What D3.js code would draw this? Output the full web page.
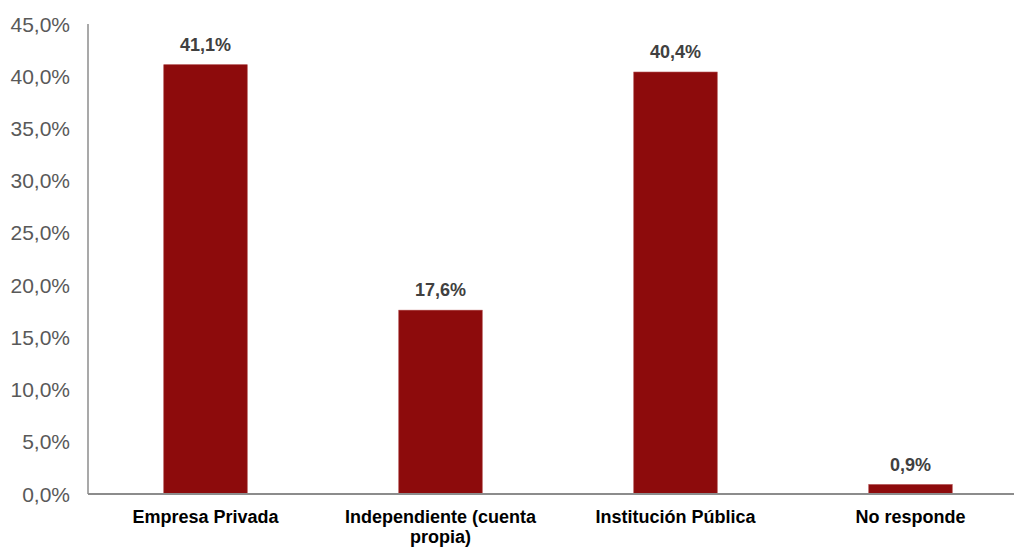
<!DOCTYPE html>
<html><head><meta charset="utf-8">
<script src="https://cdn.jsdelivr.net/npm/d3@7"></script>
<style>body{margin:0;background:#fff}svg{display:block}</style>
</head><body>
<svg id="c" width="1014" height="547"></svg>
<script>
const categories = ["Empresa Privada", "Independiente (cuenta propia)", "Institución Pública", "No responde"];
const values = [41.1, 17.6, 40.4, 0.9];
const yTicks = [0, 5, 10, 15, 20, 25, 30, 35, 40, 45];

const svg = d3.select("#c");
const fmt = v => v.toFixed(1).replace(".", ",") + "%";

const x = d3.scaleBand().domain(categories).range([88, 1028]).padding(0);
const y = d3.scaleLinear().domain([0, 45]).range([494, 24]);
const barW = x.bandwidth() * 0.355;

// y axis line
svg.append("line").attr("x1", 88).attr("x2", 88).attr("y1", y(45)).attr("y2", y(0))
  .attr("stroke", "#8c8c8c").attr("stroke-width", 1.5);

// y tick labels
svg.append("g").selectAll("text").data(yTicks).join("text")
  .attr("x", 70).attr("y", d => y(d)).attr("dy", "0.36em")
  .attr("text-anchor", "end")
  .attr("font-family", "Liberation Sans, Arial, sans-serif")
  .attr("font-size", 21).attr("fill", "#595959")
  .text(d => fmt(d));

// bars
svg.append("g").selectAll("rect").data(values).join("rect")
  .attr("x", (d, i) => x(categories[i]) + x.bandwidth() / 2 - barW / 2)
  .attr("width", barW)
  .attr("y", d => y(d))
  .attr("height", d => y(0) - y(d))
  .attr("fill", "#8d0b0c")
  .attr("stroke", "#a8393a").attr("stroke-width", 0.6);

// x axis line
svg.append("line").attr("x1", 88).attr("x2", 1014).attr("y1", y(0)).attr("y2", y(0))
  .attr("stroke", "#8c8c8c").attr("stroke-width", 2);

// value labels
svg.append("g").selectAll("text").data(values).join("text")
  .attr("x", (d, i) => x(categories[i]) + x.bandwidth() / 2)
  .attr("y", d => y(d) - 14)
  .attr("text-anchor", "middle")
  .attr("font-family", "Liberation Sans, Arial, sans-serif")
  .attr("font-weight", "bold")
  .attr("font-size", 18).attr("fill", "#404040")
  .text(d => fmt(d));

// category labels with wrapping
const catG = svg.append("g");
categories.forEach(c => {
  const t = catG.append("text")
    .attr("x", x(c) + x.bandwidth() / 2)
    .attr("y", 522.5)
    .attr("text-anchor", "middle")
    .attr("font-family", "Liberation Sans, Arial, sans-serif")
    .attr("font-weight", "bold")
    .attr("font-size", 18).attr("fill", "#000");
  const words = c.split(" ");
  let line = [];
  let tspan = t.append("tspan").attr("x", x(c) + x.bandwidth() / 2).attr("dy", 0);
  words.forEach(w => {
    line.push(w);
    tspan.text(line.join(" "));
    if (tspan.node().getComputedTextLength() > 215 && line.length > 1) {
      line.pop();
      tspan.text(line.join(" "));
      line = [w];
      tspan = t.append("tspan").attr("x", x(c) + x.bandwidth() / 2).attr("dy", 20).text(w);
    }
  });
});
</script>
</body></html>
